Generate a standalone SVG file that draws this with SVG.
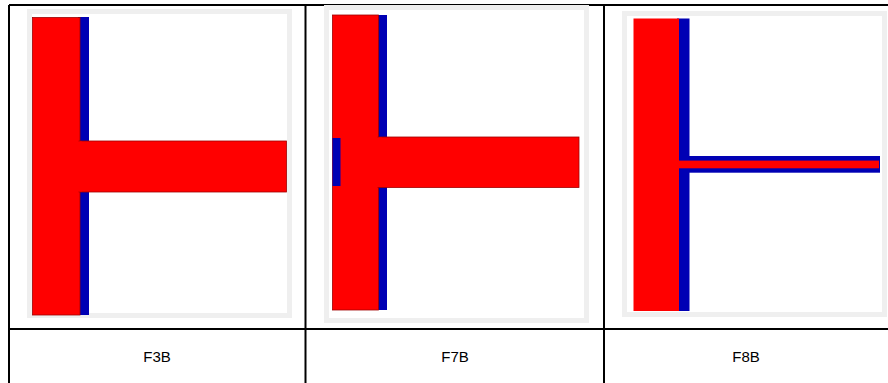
<svg xmlns="http://www.w3.org/2000/svg" width="888" height="383" viewBox="0 0 888 383">
<style>
.frame{fill:#efefef}
.inner{fill:#ffffff}
.red{fill:#ff0000;stroke:#a00000;stroke-width:0.8}
.redn{fill:#ff0000}
.blue{fill:#0000b4}
.grid{stroke:#000000;stroke-width:2;fill:none}
.lbl{font-family:"Liberation Sans",Arial,sans-serif;font-size:15px;fill:#000000;text-anchor:middle}
</style>
<rect x="0" y="0" width="888" height="383" fill="#ffffff"/>
<g id="table-grid" class="grid">
<line x1="9" y1="5" x2="888" y2="5"/>
<line x1="9" y1="5" x2="9" y2="384"/>
<line x1="305.5" y1="5" x2="305.5" y2="384"/>
<line x1="604" y1="5" x2="604" y2="384"/>
<line x1="9" y1="329" x2="888" y2="329"/>
</g>
<g id="img-F3B">
<rect class="frame" x="27" y="9" width="265" height="309"/>
<rect class="inner" x="32" y="14" width="255" height="299"/>
<rect class="blue" x="78" y="17" width="11" height="298"/>
<rect class="red" x="32.5" y="17.5" width="47.5" height="297.5"/>
<rect class="red" x="79" y="141" width="207.5" height="51"/>
<rect class="redn" x="76" y="141.5" width="6" height="50"/>
</g>
<g id="img-F7B">
<rect class="frame" x="324" y="5" width="265" height="318"/>
<rect class="inner" x="329" y="10" width="255" height="308"/>
<rect class="blue" x="376" y="15" width="11" height="295"/>
<rect class="red" x="332.5" y="15" width="46" height="295"/>
<rect class="red" x="378" y="137" width="201" height="50.5"/>
<rect class="redn" x="374" y="137.5" width="8" height="49.5"/>
<rect class="blue" x="332.5" y="138" width="8" height="48"/>
</g>
<g id="img-F8B">
<rect class="frame" x="622" y="11" width="265" height="306"/>
<rect class="inner" x="627" y="16" width="255" height="296"/>
<rect class="blue" x="677" y="18.5" width="12.5" height="292.5"/>
<rect class="redn" x="633.5" y="18.5" width="45.5" height="292.5"/>
<rect class="blue" x="679" y="156" width="201" height="16.7"/>
<rect class="redn" x="675" y="160.6" width="204" height="7.7"/>
</g>
<g id="cell-F3B"><text class="lbl" x="157" y="361.5">F3B</text></g>
<g id="cell-F7B"><text class="lbl" x="455" y="361.5">F7B</text></g>
<g id="cell-F8B"><text class="lbl" x="746" y="361.5">F8B</text></g>
</svg>
